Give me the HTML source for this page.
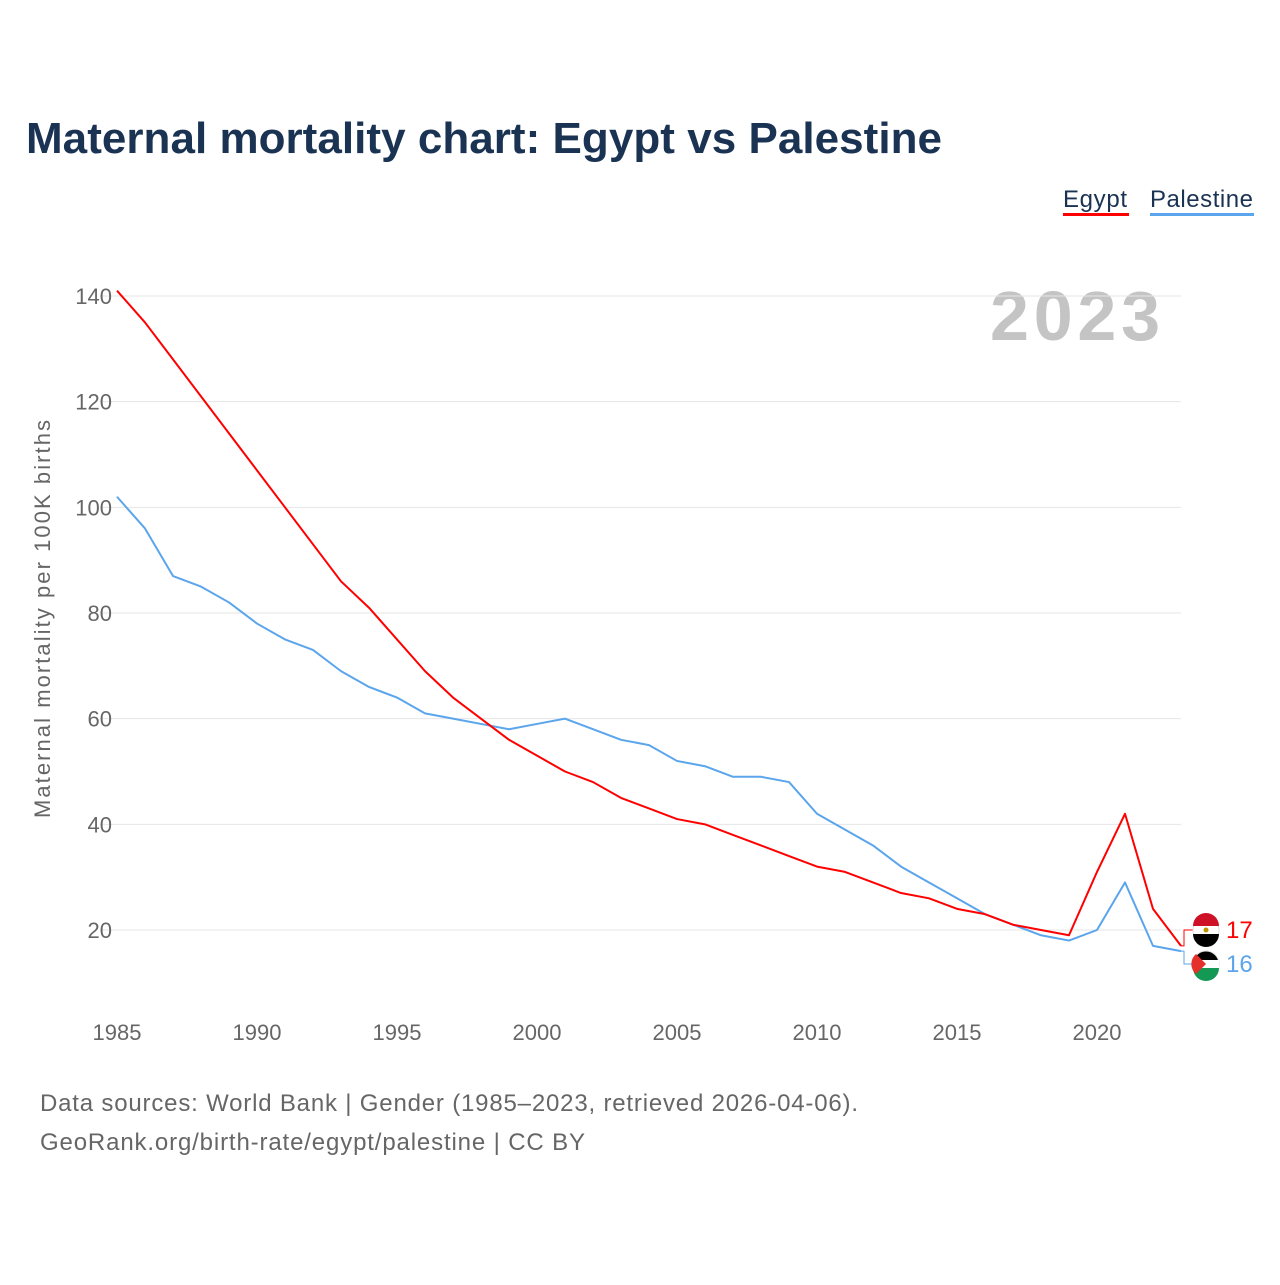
<!DOCTYPE html>
<html><head><meta charset="utf-8"><style>
body{margin:0;background:#fff;font-family:"Liberation Sans",sans-serif}
svg text{font-family:"Liberation Sans",sans-serif}
</style></head><body>
<svg width="1280" height="1280" xmlns="http://www.w3.org/2000/svg">
<text x="26" y="153" font-size="44" font-weight="bold" fill="#1b3353" textLength="916">Maternal mortality chart: Egypt vs Palestine</text>
<g>
<text x="1063" y="207" font-size="24" fill="#1b3353" textLength="64">Egypt</text>
<rect x="1063" y="213" width="66" height="3" fill="#ff0000"/>
<text x="1150" y="207" font-size="24" fill="#1b3353" textLength="103">Palestine</text>
<rect x="1150" y="213" width="104" height="3" fill="#5aa5ec"/>
</g>
<text x="990" y="340" font-size="70" font-weight="bold" fill="#c4c4c4" textLength="170">2023</text>
<text transform="translate(50,619) rotate(-90)" font-size="22" fill="#666" text-anchor="middle" textLength="398">Maternal mortality per 100K births</text>
<g id="grid"></g><g id="xt"></g><g id="lines"></g><g id="ends"></g>
<text x="40" y="1111" font-size="24" fill="#666" textLength="818">Data sources: World Bank | Gender (1985–2023, retrieved 2026-04-06).</text>
<text x="40" y="1150" font-size="24" fill="#666" textLength="545">GeoRank.org/birth-rate/egypt/palestine | CC BY</text>
</svg>
<script>
const years=[];for(let y=1985;y<=2023;y++)years.push(y);
const egypt=[141,135,128,121,114,107,100,93,86,81,75,69,64,60,56,53,50,48,45,43,41,40,38,36,34,32,31,29,27,26,24,23,21,20,19,31,42,24,17];
const palestine=[102,96,87,85,82,78,75,73,69,66,64,61,60,59,58,59,60,58,56,55,52,51,49,49,48,42,39,36,32,29,26,23,21,19,18,20,29,17,16];
const yTicks=[20,40,60,80,100,120,140];
const xTicks=[1985,1990,1995,2000,2005,2010,2015,2020];
const NS="http://www.w3.org/2000/svg";
const xs=y=>117+(y-1985)*28;
const ys=v=>930-(v-20)*(634/120);
function mk(t,a,p){const e=document.createElementNS(NS,t);for(const k in a)e.setAttribute(k,a[k]);document.getElementById(p).appendChild(e);return e;}
yTicks.forEach(v=>{
 const l=mk('line',{x1:100,x2:1181,y1:ys(v),y2:ys(v),stroke:'#e6e6e6','stroke-width':1},'grid');
 
 
 const t=mk('text',{x:112,y:ys(v)+8,'font-size':22,fill:'#666','text-anchor':'end'},'grid');t.textContent=v;
 
 
});
xTicks.forEach(y=>{
 const t=mk('text',{x:xs(y),y:1040,'font-size':22,fill:'#666','text-anchor':'middle'},'xt');t.textContent=y;
 
 
});
function line(d,c,n){
 const p=mk('polyline',{points:d.map((v,i)=>xs(years[i])+','+ys(v)).join(' '),fill:'none',stroke:c,'stroke-width':2,'stroke-linejoin':'round'},'lines');
 
 
}
line(palestine,'#5aa5ec','palestine-line');
line(egypt,'#ff0000','egypt-line');
function end(d,c,n,ly){
 const v=d[d.length-1],x=xs(2023),y=ys(v);
 mk('polyline',{points:`${x},${y} ${x+3},${y} ${x+3},${ly} ${x+12},${ly}`,fill:'none',stroke:c,'stroke-width':1},'ends');
 const g=mk('circle',{cx:1206,cy:ly,r:13,fill:n=='egypt'?'#fff':'#000',stroke:'#ddd'},'ends');
 
 
 if(n=='egypt'){mk('path',{d:`M1193,${ly-4} a13,13 0 0 1 26,0 z`,fill:'#ce1126'},'ends');mk('path',{d:`M1193,${ly+4} a13,13 0 0 0 26,0 z`,fill:'#000'},'ends');mk('circle',{cx:1206,cy:ly,r:2.5,fill:'#c09300'},'ends');}
 else{mk('path',{d:`M1193,${ly+4} a13,13 0 0 0 26,0 z`,fill:'#149954'},'ends');mk('rect',{x:1193,y:ly-4,width:26,height:8,fill:'#fff'},'ends');mk('path',{d:`M1196,${ly-10} L1206,${ly} L1196,${ly+10} A13,13 0 0 1 1196,${ly-10}z`,fill:'#e4312b'},'ends');}
 const t=mk('text',{x:1226,y:ly+8,'font-size':24,fill:c},'ends');t.textContent=v;
 
 
}
end(egypt,'#ff0000','egypt',930);
end(palestine,'#5aa5ec','palestine',964);
</script>
</body></html>
